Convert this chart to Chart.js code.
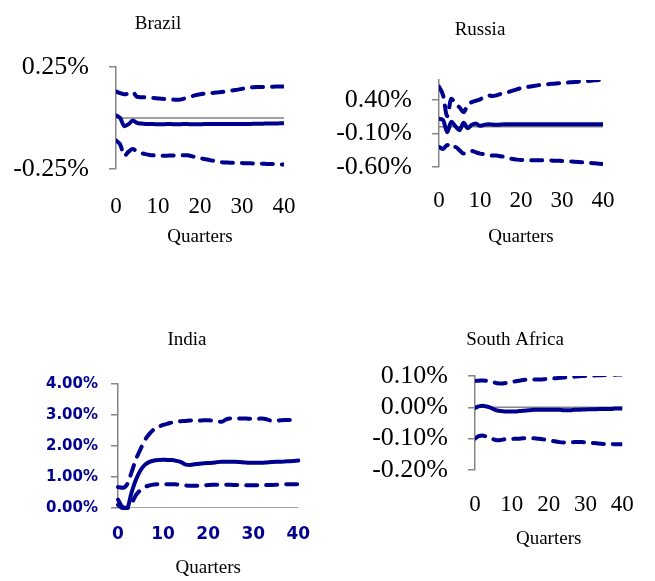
<!DOCTYPE html>
<html lang="en">
<head>
<meta charset="utf-8">
<title>Impulse responses – BRICS</title>
<script src="https://cdn.jsdelivr.net/npm/chart.js@4.4.1/dist/chart.umd.min.js"></script>
<style>
  html, body { margin: 0; padding: 0; background: #fff; }
  #board { position: relative; width: 655px; height: 581px; overflow: hidden; }
  #board canvas { position: absolute; }
</style>
</head>
<body>
<div id="board">
  <canvas id="brazil"  width="327" height="300" style="left:0;top:0"></canvas>
  <canvas id="russia"  width="328" height="300" style="left:327px;top:0"></canvas>
  <canvas id="india"   width="327" height="281" style="left:0;top:300px"></canvas>
  <canvas id="safrica" width="328" height="281" style="left:327px;top:300px"></canvas>
</div>
<script>
'use strict';

// ── Data: response in % by quarter (0..40) ──────────────────────────────────

const QUARTERS = [0, 1, 2, 3, 4, 5, 6, 7, 8, 9, 10, 11, 12, 13, 14, 15, 16, 17, 18, 19, 20,
  21, 22, 23, 24, 25, 26, 27, 28, 29, 30, 31, 32, 33, 34, 35, 36, 37, 38, 39, 40];

const BRAZIL_UPPER = [0.130, 0.122, 0.117, 0.120, 0.126, 0.104, 0.102, 0.101, 0.100, 0.098, 0.096,
  0.094, 0.093, 0.091, 0.090, 0.090, 0.094, 0.100, 0.106, 0.112, 0.116, 0.119, 0.121, 0.123, 0.125,
  0.127, 0.130, 0.133, 0.136, 0.139, 0.143, 0.147, 0.150, 0.151, 0.152, 0.152, 0.153, 0.153, 0.154,
  0.154, 0.154];
const BRAZIL_MID = [0.013, 0.000, -0.040, -0.030, -0.012, -0.024, -0.027, -0.029, -0.030, -0.030,
  -0.031, -0.031, -0.030, -0.030, -0.031, -0.031, -0.030, -0.030, -0.031, -0.031, -0.031, -0.030,
  -0.030, -0.030, -0.030, -0.030, -0.030, -0.030, -0.030, -0.030, -0.030, -0.029, -0.029, -0.028,
  -0.028, -0.028, -0.027, -0.027, -0.027, -0.026, -0.026];
const BRAZIL_LOWER = [-0.110, -0.130, -0.185, -0.165, -0.152, -0.165, -0.172, -0.177, -0.181, -0.183,
  -0.184, -0.185, -0.185, -0.184, -0.183, -0.182, -0.182, -0.183, -0.187, -0.192, -0.197, -0.201,
  -0.205, -0.209, -0.213, -0.216, -0.218, -0.219, -0.220, -0.221, -0.221, -0.222, -0.222, -0.223,
  -0.223, -0.224, -0.225, -0.225, -0.226, -0.227, -0.228];
const BRAZIL_TICKS = [-0.25, 0.25];

const RUSSIA_UPPER = [0.60, 0.47, 0.16, 0.42, 0.35, 0.29, 0.22, 0.33, 0.37, 0.39, 0.41, 0.45, 0.47,
  0.46, 0.47, 0.49, 0.50, 0.52, 0.54, 0.56, 0.58, 0.59, 0.60, 0.61, 0.62, 0.63, 0.635, 0.64, 0.645,
  0.65, 0.655, 0.66, 0.665, 0.67, 0.675, 0.68, 0.685, 0.69, 0.695, 0.70, 0.705];
const RUSSIA_MID = [0.12, 0.10, -0.08, 0.075, 0.01, -0.05, 0.06, -0.02, 0.03, 0.05, 0.015, 0.03,
  0.04, 0.035, 0.03, 0.035, 0.04, 0.04, 0.04, 0.04, 0.04, 0.04, 0.04, 0.04, 0.04, 0.04, 0.04, 0.04,
  0.04, 0.04, 0.04, 0.04, 0.04, 0.04, 0.04, 0.04, 0.04, 0.04, 0.04, 0.04, 0.04];
const RUSSIA_LOWER = [-0.30, -0.33, -0.27, -0.32, -0.30, -0.35, -0.40, -0.37, -0.36, -0.38, -0.40,
  -0.41, -0.42, -0.43, -0.43, -0.44, -0.45, -0.47, -0.48, -0.49, -0.495, -0.50, -0.50, -0.50, -0.50,
  -0.50, -0.50, -0.50, -0.505, -0.505, -0.51, -0.51, -0.515, -0.52, -0.525, -0.53, -0.535, -0.54,
  -0.545, -0.55, -0.555];
const RUSSIA_TICKS = [-0.6, -0.1, 0.4];

const INDIA_UPPER = [0.68, 0.65, 0.76, 1.15, 1.58, 1.90, 2.20, 2.40, 2.54, 2.62, 2.68, 2.72, 2.76,
  2.79, 2.80, 2.81, 2.82, 2.82, 2.82, 2.83, 2.83, 2.82, 2.79, 2.78, 2.86, 2.89, 2.89, 2.89, 2.89,
  2.88, 2.88, 2.88, 2.89, 2.86, 2.82, 2.82, 2.83, 2.84, 2.84, 2.84, 2.84];
const INDIA_MID = [0.27, 0.03, 0.00, 0.50, 0.92, 1.22, 1.40, 1.49, 1.53, 1.55, 1.56, 1.55, 1.55,
  1.52, 1.48, 1.40, 1.39, 1.41, 1.43, 1.44, 1.45, 1.46, 1.48, 1.49, 1.49, 1.49, 1.49, 1.48, 1.47,
  1.46, 1.46, 1.46, 1.46, 1.47, 1.48, 1.49, 1.49, 1.50, 1.51, 1.52, 1.53];
const INDIA_LOWER = [0.10, 0.00, 0.00, 0.15, 0.42, 0.58, 0.68, 0.73, 0.76, 0.77, 0.77, 0.77, 0.77,
  0.76, 0.75, 0.73, 0.72, 0.72, 0.72, 0.73, 0.74, 0.75, 0.75, 0.75, 0.75, 0.75, 0.74, 0.74, 0.73,
  0.73, 0.73, 0.73, 0.73, 0.74, 0.74, 0.75, 0.76, 0.77, 0.77, 0.77, 0.77];
const INDIA_TICKS = [0, 1, 2, 3, 4];

const SAFRICA_UPPER = [0.084, 0.085, 0.086, 0.085, 0.083, 0.080, 0.077, 0.076, 0.077, 0.079, 0.081,
  0.083, 0.085, 0.087, 0.088, 0.089, 0.089, 0.089, 0.089, 0.090, 0.091, 0.092, 0.093, 0.094, 0.095,
  0.096, 0.097, 0.098, 0.099, 0.100, 0.100, 0.101, 0.101, 0.102, 0.102, 0.103, 0.103, 0.104, 0.104,
  0.105, 0.105];
const SAFRICA_MID = [-0.002, 0.003, 0.005, 0.003, 0.000, -0.006, -0.010, -0.012, -0.013, -0.013,
  -0.013, -0.013, -0.012, -0.011, -0.010, -0.009, -0.008, -0.008, -0.008, -0.008, -0.008, -0.008,
  -0.008, -0.008, -0.009, -0.009, -0.009, -0.008, -0.008, -0.007, -0.007, -0.006, -0.006, -0.006,
  -0.005, -0.005, -0.005, -0.005, -0.004, -0.004, -0.004];
const SAFRICA_LOWER = [-0.100, -0.092, -0.090, -0.093, -0.096, -0.102, -0.105, -0.104, -0.102,
  -0.101, -0.101, -0.100, -0.100, -0.099, -0.099, -0.099, -0.099, -0.100, -0.101, -0.103, -0.105,
  -0.107, -0.109, -0.111, -0.112, -0.112, -0.112, -0.111, -0.111, -0.111, -0.112, -0.113, -0.114,
  -0.115, -0.116, -0.117, -0.117, -0.117, -0.118, -0.118, -0.118];
const SAFRICA_TICKS = [-0.2, -0.1, 0, 0.1];

// ── Styling ─────────────────────────────────────────────────────────────────

const NAVY = '#00008f';
const AXIS_GREY = '#858585';
const DASH = [11, 9];
const SERIF = "'Liberation Serif', 'Times New Roman', serif";
const TITLE_FONT = { family: SERIF, size: 19, weight: 'normal' };
const SERIF_Y = { family: SERIF, size: 26 };
const SERIF_X = { family: SERIF, size: 23 };
const BOLD_Y = { family: "'DejaVu Sans', sans-serif", size: 15, weight: 'bold' };
const BOLD_X = { family: "'DejaVu Sans', sans-serif", size: 17, weight: 'bold' };

Chart.defaults.font.family = SERIF;

// Panel heading, placed relative to the plot's left edge (Excel-style, off-centre)
const panelTitle = {
  id: 'panelTitle',
  afterDraw(chart, args, opts) {
    const { ctx, chartArea } = chart;
    ctx.save();
    ctx.font = `${TITLE_FONT.size}px ${SERIF}`;
    ctx.fillStyle = '#000';
    ctx.textAlign = 'center';
    ctx.textBaseline = 'middle';
    ctx.fillText(opts.text, chartArea.left + opts.dx, opts.y);
    ctx.restore();
  }
};

// ── Panel builder ───────────────────────────────────────────────────────────

function makePanel(id, p) {
  const line = (data, dash, order) => ({
    data,
    borderColor: NAVY,
    borderWidth: 4,
    borderDash: dash,
    borderCapStyle: 'round',
    borderJoinStyle: 'round',
    pointRadius: 0,
    cubicInterpolationMode: 'monotone',
    clip: p.clip,
    order
  });

  new Chart(document.getElementById(id), {
    type: 'line',
    data: {
      labels: QUARTERS,
      datasets: [
        // x axis crossing at zero
        { data: QUARTERS.map(() => 0), borderColor: AXIS_GREY, borderWidth: 1.5, pointRadius: 0, order: 4 },
        line(p.upper, DASH, 1),
        line(p.mid, [], 2),
        line(p.lower, DASH, 3)
      ]
    },
    plugins: [panelTitle],
    options: {
      responsive: false,
      animation: false,
      events: [],
      layout: { padding: p.pad },
      plugins: {
        legend: { display: false },
        tooltip: { enabled: false },
        title: { display: false },
        panelTitle: { text: p.title, dx: p.titleDx, y: p.titleY }
      },
      scales: {
        x: {
          grid: { display: false, drawTicks: false },
          border: { display: false },
          ticks: {
            autoSkip: false, maxRotation: 0, padding: p.xTickPad,
            color: p.tickColor, font: p.xFont,
            callback: (v, i) => (QUARTERS[i] % 10 === 0 ? String(QUARTERS[i]) : '')
          },
          title: { display: true, text: 'Quarters', color: '#000', font: TITLE_FONT, padding: { top: 0, bottom: 0 } },
          afterFit: s => { s.height = p.xHeight; }
        },
        y: {
          min: p.min,
          max: p.max,
          afterBuildTicks: s => { s.ticks = p.yTicks.map(v => ({ value: v })); },
          afterFit: s => { s.width = p.yWidth; },
          grid: { drawOnChartArea: false, drawTicks: true, tickLength: 7, color: AXIS_GREY, lineWidth: 1.5 },
          border: { display: true, color: AXIS_GREY, width: 1.5 },
          ticks: {
            autoSkip: false, padding: p.yTickPad, color: p.tickColor, font: p.yFont,
            callback: v => Number(v).toFixed(2) + '%'
          }
        }
      }
    }
  });
}

// ── Panels ──────────────────────────────────────────────────────────────────

makePanel('brazil', {
  title: 'Brazil', titleDx: 42, titleY: 24,
  upper: BRAZIL_UPPER, mid: BRAZIL_MID, lower: BRAZIL_LOWER,
  min: -0.25, max: 0.25, yTicks: BRAZIL_TICKS, clip: 0,
  pad: { left: 0, right: 43, top: 67, bottom: 51.6 },
  yWidth: 116, xHeight: 79.4, yTickPad: 20, xTickPad: 24.2,
  tickColor: '#000', yFont: SERIF_Y, xFont: SERIF_X
});

makePanel('russia', {
  title: 'Russia', titleDx: 41, titleY: 30,
  upper: RUSSIA_UPPER, mid: RUSSIA_MID, lower: RUSSIA_LOWER,
  min: -0.6, max: 0.7, yTicks: RUSSIA_TICKS, clip: 0,
  pad: { left: 0, right: 52, top: 80, bottom: 51.6 },
  yWidth: 112, xHeight: 81.4, yTickPad: 20, xTickPad: 20.2,
  tickColor: '#000', yFont: SERIF_Y, xFont: SERIF_X
});

makePanel('india', {
  title: 'India', titleDx: 69, titleY: 40,
  upper: INDIA_UPPER, mid: INDIA_MID, lower: INDIA_LOWER,
  min: 0, max: 4, yTicks: INDIA_TICKS, clip: 2,
  pad: { left: 0, right: 14, top: 84, bottom: 1.6 },
  yWidth: 118, xHeight: 71.4, yTickPad: 13, xTickPad: 16.8,
  tickColor: NAVY, yFont: BOLD_Y, xFont: BOLD_X
});

makePanel('safrica', {
  title: 'South Africa', titleDx: 40, titleY: 40,
  upper: SAFRICA_UPPER, mid: SAFRICA_MID, lower: SAFRICA_LOWER,
  min: -0.2, max: 0.1, yTicks: SAFRICA_TICKS, clip: 0,
  pad: { left: 0, right: 15, top: 76, bottom: 30.6 },
  yWidth: 148, xHeight: 80.4, yTickPad: 20, xTickPad: 21.2,
  tickColor: '#000', yFont: SERIF_Y, xFont: SERIF_X
});
</script>
</body>
</html>
